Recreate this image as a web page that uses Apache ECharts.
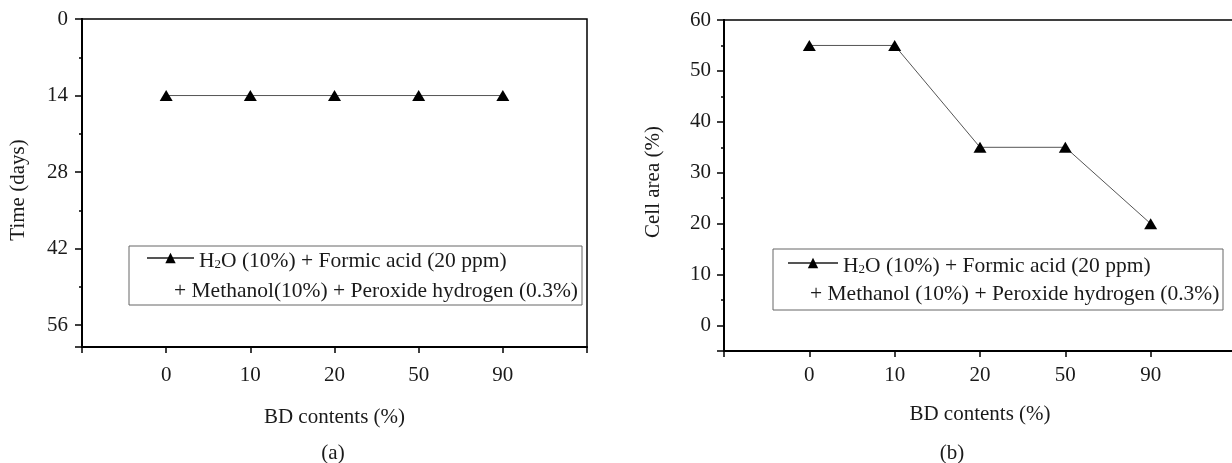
<!DOCTYPE html>
<html>
<head>
<meta charset="utf-8">
<script src="https://cdn.jsdelivr.net/npm/echarts@6/dist/echarts.min.js"></script>
<style>
html,body{margin:0;padding:0;background:#fff;}
#chart{width:1232px;height:463px;}
</style>
</head>
<body>
<div id="chart"></div>
<script>
// ---- data ----
const categories = ['', '0', '10', '20', '50', '90', ''];
const timeDays = [null, 14, 14, 14, 14, 14, null];
const cellArea = [null, 55, 55, 35, 35, 20, null];
const seriesName = 'H2O (10%) + Formic acid (20 ppm)';
const legendLine2a = '+ Methanol(10%) + Peroxide hydrogen (0.3%)';
const legendLine2b = '+ Methanol (10%) + Peroxide hydrogen (0.3%)';
const xName = 'BD contents (%)';
const yNameA = 'Time (days)';
const yNameB = 'Cell area (%)';

const FONT = '"Liberation Serif", "Times New Roman", serif';
const TXT = '#1a1a1a';
const chart = echarts.init(document.getElementById('chart'));

function xAxis(gridIndex, labelMargin, nameGap) {
  return {
    type: 'category', gridIndex, data: categories, boundaryGap: false,
    axisLine: {onZero: false, lineStyle: {color: '#000', width: 2}},
    axisTick: {length: 6, lineStyle: {color: '#000', width: 1.5}},
    axisLabel: {margin: labelMargin, fontSize: 21, fontFamily: FONT, color: TXT, interval: 0},
    splitLine: {show: false},
    name: xName, nameLocation: 'middle', nameGap: nameGap,
    nameTextStyle: {fontSize: 21, fontFamily: FONT, color: TXT}
  };
}
function minorY(gridIndex, min, max, interval, inverse) {
  return {
    type: 'value', gridIndex, min, max, interval, inverse, position: 'left',
    axisLine: {show: true, onZero: false, lineStyle: {color: '#000', width: 2}},
    axisTick: {show: true, length: 3, lineStyle: {color: '#000', width: 1.5}},
    axisLabel: {show: false}, splitLine: {show: false}
  };
}
const legendFmt = n => n.replace('H2O', 'H{sub|2}O');
const richSub = {sub: {fontSize: 13, fontFamily: FONT, color: TXT, padding: [8, 0, 0, 0]}};

const option = {
  backgroundColor: '#fff',
  animation: false,
  grid: [
    {left: 82, top: 19, width: 505, height: 328, show: true, borderColor: '#000', borderWidth: 1.5, containLabel: false, outerBoundsMode: 'none'},
    {left: 724, top: 20, width: 512, height: 331, show: true, borderColor: '#000', borderWidth: 1.5, containLabel: false, outerBoundsMode: 'none'}
  ],
  xAxis: [xAxis(0, 18, 60), xAxis(1, 14, 53)],
  yAxis: [
    minorY(0, 0, 60, 7, true),
    {
      type: 'value', gridIndex: 0, min: 0, max: 60, interval: 14, inverse: true, position: 'left',
      axisLine: {show: true, onZero: false, lineStyle: {color: '#000', width: 2}},
      axisTick: {show: true, length: 7, lineStyle: {color: '#000', width: 1.5}},
      axisLabel: {margin: 14, fontSize: 21, fontFamily: FONT, color: TXT, formatter: v => (v === 60 ? '' : String(v))},
      splitLine: {show: false},
      name: yNameA, nameLocation: 'middle', nameGap: 53, nameRotate: 90,
      nameTextStyle: {fontSize: 21, fontFamily: FONT, color: TXT, padding: [0, 14, 0, 0]}
    },
    minorY(1, -5, 60, 5, false),
    {
      type: 'value', gridIndex: 1, min: -5, max: 60, minInterval: 10, maxInterval: 10, position: 'left',
      axisLine: {show: true, onZero: false, lineStyle: {color: '#000', width: 2}},
      axisTick: {show: true, length: 7, lineStyle: {color: '#000', width: 1.5}},
      axisLabel: {margin: 13, fontSize: 21, fontFamily: FONT, color: TXT, formatter: v => (v < 0 ? '' : String(v))},
      splitLine: {show: false},
      name: yNameB, nameLocation: 'middle', nameGap: 60, nameRotate: 90,
      nameTextStyle: {fontSize: 21, fontFamily: FONT, color: TXT, padding: [0, 0, 0, 7]}
    }
  ],
  legend: [
    {
      left: 146, top: 250, padding: 0, itemWidth: 47, itemHeight: 13, data: [seriesName],
      formatter: legendFmt, selectedMode: false,
      textStyle: {fontSize: 21.5, fontFamily: FONT, color: TXT, rich: richSub, padding: [6, 0, 0, 0]}
    },
    {
      left: 787, top: 255, padding: 0, itemWidth: 50, itemHeight: 13, data: [seriesName],
      formatter: legendFmt, selectedMode: false,
      textStyle: {fontSize: 21.5, fontFamily: FONT, color: TXT, rich: richSub, padding: [6, 0, 0, 0]}
    }
  ],
  series: [
    {
      name: seriesName, type: 'line', xAxisIndex: 0, yAxisIndex: 1, data: timeDays,
      symbol: 'triangle', symbolSize: [13, 11], showSymbol: true,
      itemStyle: {color: '#000'}, lineStyle: {color: '#555', width: 1}
    },
    {
      name: seriesName, type: 'line', xAxisIndex: 1, yAxisIndex: 3, data: cellArea,
      symbol: 'triangle', symbolSize: [13, 11], showSymbol: true,
      itemStyle: {color: '#000'}, lineStyle: {color: '#555', width: 1}
    }
  ],
  graphic: [
    {type: 'rect', shape: {x: 129, y: 246, width: 453, height: 59}, style: {fill: 'none', stroke: '#666', lineWidth: 1}, z: 1},
    {type: 'text', x: 174, y: 291, style: {text: legendLine2a, font: '21.5px ' + FONT, fill: TXT, verticalAlign: 'middle'}},
    {type: 'rect', shape: {x: 773, y: 249, width: 450, height: 61}, style: {fill: 'none', stroke: '#666', lineWidth: 1}, z: 1},
    {type: 'text', x: 810, y: 294, style: {text: legendLine2b, font: '21.5px ' + FONT, fill: TXT, verticalAlign: 'middle'}},
    {type: 'text', x: 333, y: 453, style: {text: '(a)', font: '21px ' + FONT, fill: TXT, align: 'center', verticalAlign: 'middle'}},
    {type: 'text', x: 952, y: 453, style: {text: '(b)', font: '21px ' + FONT, fill: TXT, align: 'center', verticalAlign: 'middle'}}
  ]
};
chart.setOption(option);
</script>
</body>
</html>
